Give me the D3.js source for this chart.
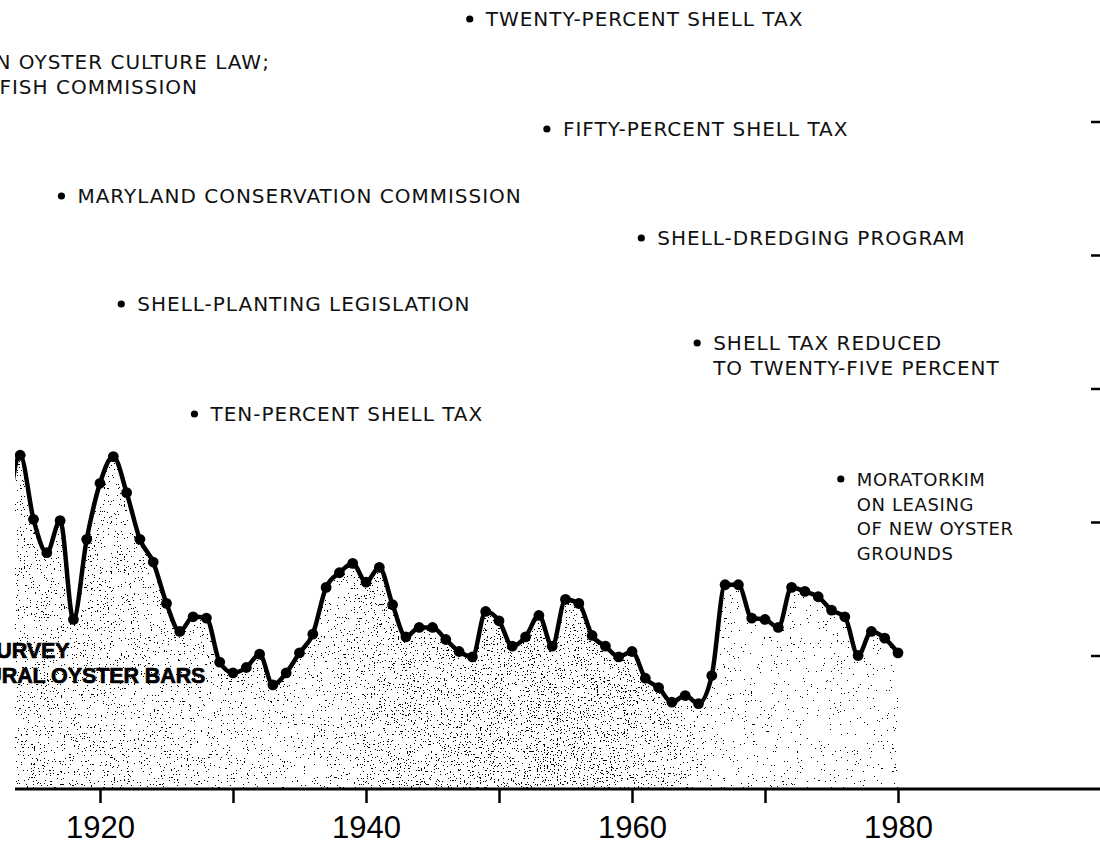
<!DOCTYPE html>
<html>
<head>
<meta charset="utf-8">
<script src="https://cdn.jsdelivr.net/npm/d3@7"></script>
<style>
  html, body { margin: 0; padding: 0; background: #fff; }
  svg { display: block; }
  .note { font-family: "DejaVu Sans", sans-serif; font-size: 20px; letter-spacing: 1px; fill: #111; }
  .note.small { font-size: 18px; letter-spacing: 0.6px; }
  .survey { font-family: "Liberation Sans Narrow", "Liberation Sans", sans-serif; font-weight: bold; font-size: 21.5px; letter-spacing: -0.1px; fill: #000; stroke: #000; stroke-width: 0.7px; }
  .yr text { font-family: "Liberation Sans Narrow", sans-serif; font-size: 31px; fill: #000; }
</style>
</head>
<body>
<div id="chart"></div>
<script>
// Maryland oyster harvest, one point per season (units = right-hand tick steps)
const years = [1913, 1914, 1915, 1916, 1917, 1918, 1919, 1920, 1921, 1922,
    1923, 1924, 1925, 1926, 1927, 1928, 1929, 1930, 1931, 1932,
    1933, 1934, 1935, 1936, 1937, 1938, 1939, 1940, 1941, 1942,
    1943, 1944, 1945, 1946, 1947, 1948, 1949, 1950, 1951, 1952,
    1953, 1954, 1955, 1956, 1957, 1958, 1959, 1960, 1961, 1962,
    1963, 1964, 1965, 1966, 1967, 1968, 1969, 1970, 1971, 1972,
    1973, 1974, 1975, 1976, 1977, 1978, 1979, 1980]
const harvest = [2.00, 2.50, 2.02, 1.77, 2.01, 1.27, 1.87, 2.29, 2.49, 2.22,
    1.87, 1.70, 1.39, 1.18, 1.29, 1.28, 0.95, 0.87, 0.91, 1.01,
    0.78, 0.87, 1.02, 1.16, 1.51, 1.62, 1.69, 1.55, 1.66, 1.38,
    1.14, 1.21, 1.21, 1.12, 1.03, 0.99, 1.33, 1.26, 1.07, 1.14,
    1.30, 1.07, 1.42, 1.39, 1.15, 1.07, 0.99, 1.03, 0.83, 0.76,
    0.65, 0.70, 0.64, 0.85, 1.53, 1.53, 1.28, 1.27, 1.21, 1.51,
    1.48, 1.44, 1.34, 1.29, 1.00, 1.18, 1.13, 1.02]

const year_ticks = [1920, 1930, 1940, 1950, 1960, 1970, 1980]
const year_labels = [1920, 1940, 1960, 1980]
const value_ticks = [1, 2, 3, 4, 5]

// events marked with a bullet at their year
const event_years = [1906.15, 1917.1, 1921.6, 1927.1, 1947.8, 1953.6, 1960.7, 1964.9, 1975.7]
const event_text = [
    ["HAMAN OYSTER CULTURE LAW;", "SHELLFISH COMMISSION"],
    ["MARYLAND CONSERVATION COMMISSION"],
    ["SHELL-PLANTING LEGISLATION"],
    ["TEN-PERCENT SHELL TAX"],
    ["TWENTY-PERCENT SHELL TAX"],
    ["FIFTY-PERCENT SHELL TAX"],
    ["SHELL-DREDGING PROGRAM"],
    ["SHELL TAX REDUCED", "TO TWENTY-FIVE PERCENT"],
    ["MORATORKIM", "ON LEASING", "OF NEW OYSTER", "GROUNDS"]
]
const survey_text = ["YATES SURVEY", "OF NATURAL OYSTER BARS"]

var width = 1100, height = 847
var event_row_y = [69, 203, 311, 421, 26, 136, 245, 350, 486]   // first-line baseline
var event_small = [false, false, false, false, false, false, false, false, true]
var line_gap = 24.5

var x_scale = d3.scaleLinear().domain([1920, 1980]).range([100, 898])
var y_scale = d3.scaleLinear().domain([0, 5]).range([789, 121.5])

var dataset = years.map(function (d, i) { return { "year": d, "value": harvest[i] } })

var svg = d3.select("#chart").append("svg")
    .attr("width", width)
    .attr("height", height)

var defs = svg.append("defs")
defs.append("clipPath").attr("id", "plot-clip")
    .append("rect")
    .attr("x", 15).attr("y", 0)
    .attr("width", width - 15).attr("height", height)

var area = d3.area()
    .x(function (d) { return x_scale(d.year) })
    .y0(y_scale(0))
    .y1(function (d) { return y_scale(d.value) })
    .curve(d3.curveMonotoneX)
var line = d3.line()
    .x(function (d) { return x_scale(d.year) })
    .y(function (d) { return y_scale(d.value) })
    .curve(d3.curveMonotoneX)

defs.append("clipPath").attr("id", "area-clip")
    .append("path").attr("d", area(dataset))

// stipple density across the years (denser mid-century)
var grad = defs.append("linearGradient").attr("id", "density")
    .attr("gradientUnits", "userSpaceOnUse")
    .attr("x1", x_scale(1913)).attr("x2", x_scale(1980))
    .attr("y1", 0).attr("y2", 0)
var stops = [[0, 0.25], [0.25, 0.2], [0.33, 0.15], [0.42, 0.3], [0.6, 0.36], [0.74, 0.3], [0.8, 0.1], [1, 0.08]]
stops.forEach(function (s) {
    grad.append("stop").attr("offset", s[0]).attr("stop-color", "#000").attr("stop-opacity", s[1])
})

var filt = defs.append("filter").attr("id", "stipple")
    .attr("x", 0).attr("y", 0).attr("width", 1).attr("height", 1)
    .attr("color-interpolation-filters", "sRGB")
filt.append("feTurbulence").attr("type", "fractalNoise")
    .attr("baseFrequency", 0.7).attr("numOctaves", 2).attr("seed", 11).attr("result", "n")
filt.append("feColorMatrix").attr("in", "n").attr("type", "matrix")
    .attr("values", "0 0 0 0 0  0 0 0 0 0  0 0 0 0 0  3.2 0 0 0 -1.48").attr("result", "na")
filt.append("feComposite").attr("in", "SourceGraphic").attr("in2", "na")
    .attr("operator", "arithmetic").attr("k1", 0).attr("k2", 1).attr("k3", 1).attr("k4", -0.5)
    .attr("result", "s")
filt.append("feComponentTransfer").attr("in", "s")
    .append("feFuncA").attr("type", "discrete").attr("tableValues", "0 1")

var plot = svg.append("g").attr("clip-path", "url(#plot-clip)")

plot.append("g").attr("clip-path", "url(#area-clip)")
    .append("path")
    .attr("d", area(dataset))
    .attr("fill", "url(#density)")
    .attr("filter", "url(#stipple)")

plot.append("path")
    .attr("d", line(dataset))
    .attr("fill", "none")
    .attr("stroke", "#000")
    .attr("stroke-width", 4.5)
    .attr("stroke-linejoin", "round")

plot.selectAll(".dot").data(dataset)
    .enter().append("circle")
    .attr("class", "dot")
    .attr("cx", function (d) { return x_scale(d.year) })
    .attr("cy", function (d) { return y_scale(d.value) })
    .attr("r", 5.4)
    .attr("fill", "#000")

// base line and year ticks
svg.append("line")
    .attr("x1", 15).attr("x2", width)
    .attr("y1", y_scale(0)).attr("y2", y_scale(0))
    .attr("stroke", "#000").attr("stroke-width", 3)

var x_axis = svg.append("g")
    .attr("class", "yr")
    .attr("transform", "translate(0," + y_scale(0) + ")")
    .call(d3.axisBottom(x_scale)
        .tickValues(year_ticks)
        .tickSize(14)
        .tickSizeOuter(0)
        .tickPadding(13)
        .tickFormat(function (d) { return year_labels.indexOf(d) >= 0 ? d : "" }))
x_axis.select(".domain").remove()
x_axis.selectAll(".tick line").attr("stroke", "#000").attr("stroke-width", 2.5)

var y_axis = svg.append("g")
    .attr("transform", "translate(" + width + ",0)")
    .call(d3.axisLeft(y_scale).tickValues(value_ticks).tickSize(9).tickFormat(""))
y_axis.select(".domain").remove()
y_axis.selectAll(".tick line").attr("stroke", "#000").attr("stroke-width", 2.5)

// event notes
var notes = svg.append("g")
event_years.forEach(function (yr, i) {
    var bx = x_scale(yr)
    var by = event_row_y[i]
    notes.append("circle")
        .attr("cx", bx).attr("cy", by - 7)
        .attr("r", 3.6).attr("fill", "#000")
    var t = notes.append("text").attr("class", event_small[i] ? "note small" : "note")
        .attr("x", bx + 16).attr("y", by)
    event_text[i].forEach(function (s, j) {
        t.append("tspan").attr("x", bx + 16).attr("y", by + j * line_gap).text(s)
    })
})

var st = svg.append("text").attr("class", "survey")
survey_text.forEach(function (s, j) {
    st.append("tspan").attr("x", x_scale(1905.6)).attr("y", 658 + j * 25).text(s)
})
</script>
</body>
</html>
